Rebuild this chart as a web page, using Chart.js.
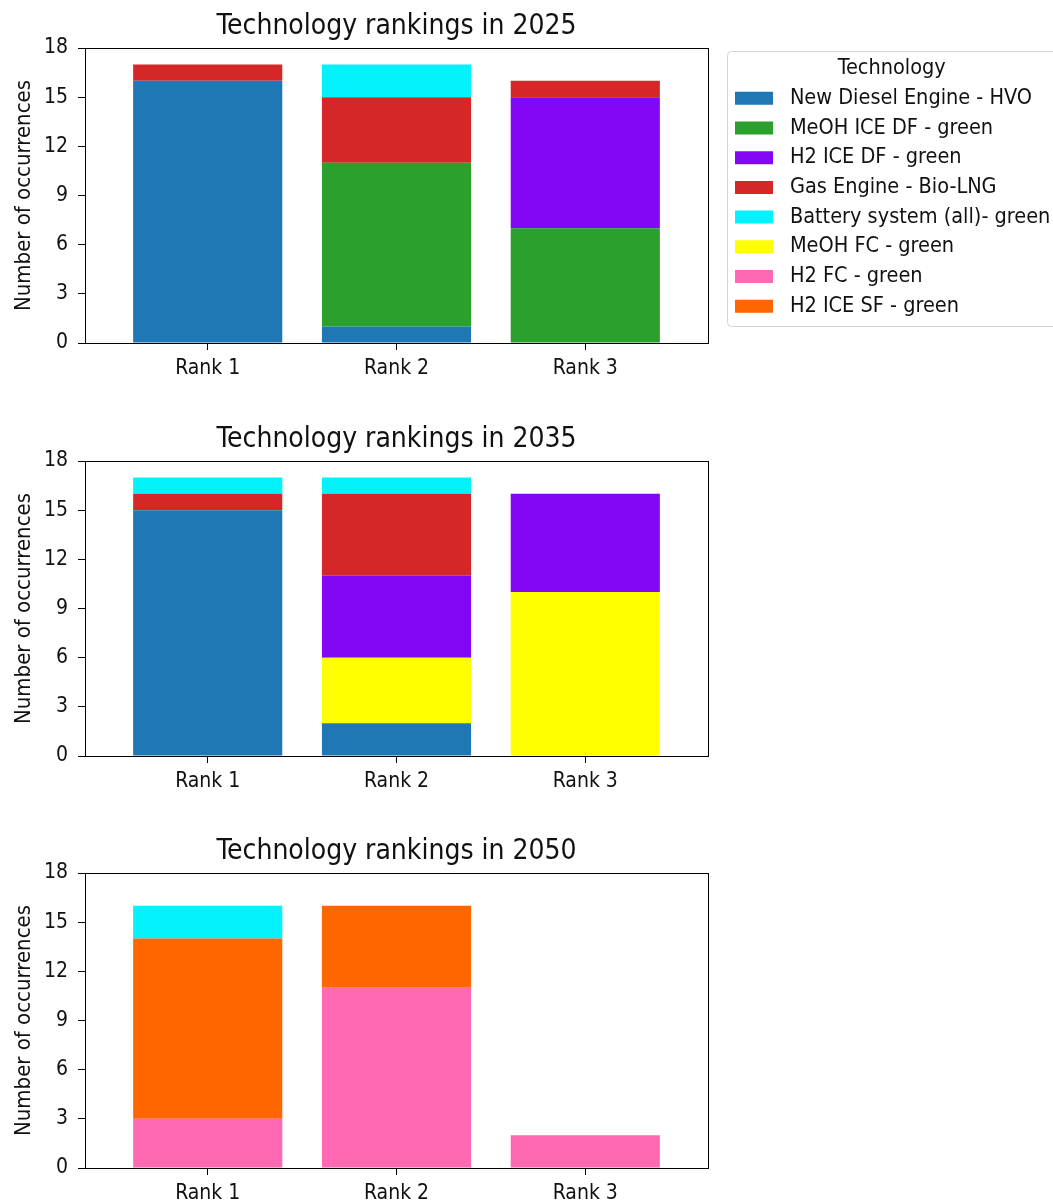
<!DOCTYPE html>
<html>
<head>
<meta charset="utf-8">
<title>Technology rankings</title>
<script src="https://cdn.jsdelivr.net/npm/chart.js@4.4.1/dist/chart.umd.min.js"></script>
<style>
  html, body { margin: 0; padding: 0; background: #fff; overflow: hidden; width: 1053px; height: 1200px; position: relative; }
  canvas { position: absolute; left: 0; }
</style>
</head>
<body>
<canvas id="c2025" width="1080" height="400" style="top:0px"></canvas>
<canvas id="c2035" width="1053" height="400" style="top:413px"></canvas>
<canvas id="c2050" width="1053" height="400" style="top:825px"></canvas>
<script>
// ---- categories ----
const rankLabels = ['Rank 1', 'Rank 2', 'Rank 3'];

// ---- technology names ----
const HVO = 'New Diesel Engine - HVO';
const MEOH_ICE_DF = 'MeOH ICE DF - green';
const H2_ICE_DF = 'H2 ICE DF - green';
const BIO_LNG = 'Gas Engine - Bio-LNG';
const BATTERY = 'Battery system (all)- green';
const MEOH_FC = 'MeOH FC - green';
const H2_FC = 'H2 FC - green';
const H2_ICE_SF = 'H2 ICE SF - green';

// order of entries in the legend
const legendOrder = [HVO, MEOH_ICE_DF, H2_ICE_DF, BIO_LNG, BATTERY, MEOH_FC, H2_FC, H2_ICE_SF];
// order in which segments are stacked (bottom first)
const stackOrder = [HVO, MEOH_FC, MEOH_ICE_DF, H2_FC, H2_ICE_SF, H2_ICE_DF, BIO_LNG, BATTERY];

// ---- occurrences per rank, 2025 ----
const hvo2025 = [16, 1, 0];
const meohIceDf2025 = [0, 10, 7];
const h2IceDf2025 = [0, 0, 8];
const bioLng2025 = [1, 4, 1];
const battery2025 = [0, 2, 0];
const meohFc2025 = [0, 0, 0];
const h2Fc2025 = [0, 0, 0];
const h2IceSf2025 = [0, 0, 0];

// ---- occurrences per rank, 2035 ----
const hvo2035 = [15, 2, 0];
const meohFc2035 = [0, 4, 10];
const h2IceDf2035 = [0, 5, 6];
const bioLng2035 = [1, 5, 0];
const battery2035 = [1, 1, 0];

// ---- occurrences per rank, 2050 ----
const h2Fc2050 = [3, 11, 2];
const h2IceSf2050 = [11, 5, 0];
const battery2050 = [2, 0, 0];

// ---- axis ticks ----
const yMax = 18;
const yStep = 3;

// ---- colours ----
const colours = {};
colours[HVO] = '#1f77b4';
colours[MEOH_ICE_DF] = '#2ca02c';
colours[H2_ICE_DF] = '#8208f5';
colours[BIO_LNG] = '#d62728';
colours[BATTERY] = '#04f2fc';
colours[MEOH_FC] = '#ffff00';
colours[H2_FC] = '#ff69b4';
colours[H2_ICE_SF] = '#ff6600';

const FONT = "'DejaVu Sans Condensed', 'DejaVu Sans', sans-serif";
const INK = '#111111';
Chart.defaults.font.family = FONT;
Chart.defaults.color = INK;

// box around the plotting area, drawn above the bars
const axesFrame = {
  id: 'axesFrame',
  afterDatasetsDraw(chart) {
    const { ctx, chartArea: a } = chart;
    ctx.save();
    ctx.strokeStyle = '#000';
    ctx.lineWidth = 1;
    ctx.strokeRect(Math.round(a.left) + 0.5, Math.round(a.top) + 0.5,
                   Math.round(a.right) - Math.round(a.left), Math.round(a.bottom) - Math.round(a.top));
    ctx.restore();
  }
};

// rounded frame behind the legend
const legendFrame = {
  id: 'legendFrame',
  beforeDraw(chart) {
    const lg = chart.legend;
    if (!lg || !lg.legendHitBoxes || !lg.legendHitBoxes.length) return;
    const boxes = lg.legendHitBoxes;
    const last = boxes[boxes.length - 1];
    const { ctx } = chart;
    const x = Math.round(lg.left) + 0.5;
    const y = Math.round(lg.top + 3) + 0.5;
    const bottom = Math.round(last.top + last.height + 9) + 0.5;
    const right = chart.width + 20;
    ctx.save();
    ctx.beginPath();
    ctx.roundRect(x, y, right - x, bottom - y, 4);
    ctx.fillStyle = '#ffffff';
    ctx.fill();
    ctx.strokeStyle = '#d4d4d4';
    ctx.lineWidth = 1;
    ctx.stroke();
    ctx.restore();
  }
};

// a rank with no occurrences gets no segment at all
function makeDatasets(series) {
  return stackOrder
    .filter(name => series[name])
    .map(name => ({
      label: name,
      data: series[name].map((v, i) => ({ x: i, y: v === 0 ? null : v })),
      backgroundColor: colours[name],
      borderWidth: 0,
      barPercentage: 0.79,
      categoryPercentage: 1.0
    }));
}

function makeScales(withLegendGap) {
  const tickGrid = { display: true, drawOnChartArea: false, drawTicks: true, tickLength: 7, color: '#000', lineWidth: 1, offset: false };
  const scales = {
    x: {
      type: 'linear',
      stacked: true,
      min: -0.65,
      max: 2.65,
      offset: false,
      grid: tickGrid,
      border: { display: false },
      ticks: {
        padding: 6, color: INK, font: { size: 21 }, maxRotation: 0, autoSkip: false,
        callback: v => rankLabels[v] !== undefined ? rankLabels[v] : ''
      },
      afterBuildTicks: sc => { sc.ticks = rankLabels.map((_, i) => ({ value: i })); },
      afterFit: sc => { sc.height = 57; }
    },
    y: {
      type: 'linear',
      stacked: true,
      min: 0,
      max: yMax,
      grid: tickGrid,
      border: { display: false },
      ticks: { stepSize: yStep, padding: 10, color: INK, font: { size: 21 } },
      title: { display: true, text: 'Number of occurrences', color: INK, font: { size: 22 }, padding: { top: 11, bottom: 0 } },
      afterFit: sc => { sc.width = 85; }
    }
  };
  if (withLegendGap) {
    scales.gap = {
      type: 'linear',
      position: 'right',
      display: true,
      grid: { display: false },
      border: { display: false },
      ticks: { display: false },
      afterFit: sc => { sc.width = 18.8; }
    };
  }
  return scales;
}

function makeChart(canvasId, year, series, withLegend) {
  const canvas = document.getElementById(canvasId);
  const padRight = withLegend ? canvas.width - 726.8 - 330 : canvas.width - 708;
  return new Chart(canvas, {
    type: 'bar',
    data: { datasets: makeDatasets(series) },
    options: {
      responsive: false,
      animation: false,
      devicePixelRatio: 1,
      layout: { padding: { left: 0, top: 0, right: padRight, bottom: 0 } },
      scales: makeScales(withLegend),
      plugins: {
        tooltip: { enabled: false },
        title: {
          display: true,
          text: 'Technology rankings in ' + year,
          fullSize: false,
          color: INK,
          font: { size: 28, weight: 'normal' },
          padding: { top: 10, bottom: 4.4 }
        },
        legend: withLegend ? {
          display: true,
          position: 'right',
          align: 'start',
          fullSize: false,
          maxWidth: 330,
          title: {
            display: true,
            text: 'Technology',
            color: INK,
            font: { size: 21.5, lineHeight: 1 },
            padding: { top: 9.75, bottom: 0.1 }
          },
          labels: {
            boxWidth: 38,
            boxHeight: 13,
            padding: 8.2,
            color: INK,
            font: { size: 21.5 },
            generateLabels(chart) {
              return Chart.defaults.plugins.legend.labels.generateLabels(chart)
                .map(item => Object.assign({}, item, { text: ' ' + item.text, lineWidth: 0 }));
            },
            sort: (a, b, data) =>
              legendOrder.indexOf(data.datasets[a.datasetIndex].label) -
              legendOrder.indexOf(data.datasets[b.datasetIndex].label)
          }
        } : { display: false }
      }
    },
    plugins: withLegend ? [legendFrame, axesFrame] : [axesFrame]
  });
}

const series2025 = {};
series2025[HVO] = hvo2025;
series2025[MEOH_FC] = meohFc2025;
series2025[MEOH_ICE_DF] = meohIceDf2025;
series2025[H2_FC] = h2Fc2025;
series2025[H2_ICE_SF] = h2IceSf2025;
series2025[H2_ICE_DF] = h2IceDf2025;
series2025[BIO_LNG] = bioLng2025;
series2025[BATTERY] = battery2025;

const series2035 = {};
series2035[HVO] = hvo2035;
series2035[MEOH_FC] = meohFc2035;
series2035[H2_ICE_DF] = h2IceDf2035;
series2035[BIO_LNG] = bioLng2035;
series2035[BATTERY] = battery2035;

const series2050 = {};
series2050[H2_FC] = h2Fc2050;
series2050[H2_ICE_SF] = h2IceSf2050;
series2050[BATTERY] = battery2050;

makeChart('c2025', 2025, series2025, true);
makeChart('c2035', 2035, series2035, false);
makeChart('c2050', 2050, series2050, false);
</script>
</body>
</html>
